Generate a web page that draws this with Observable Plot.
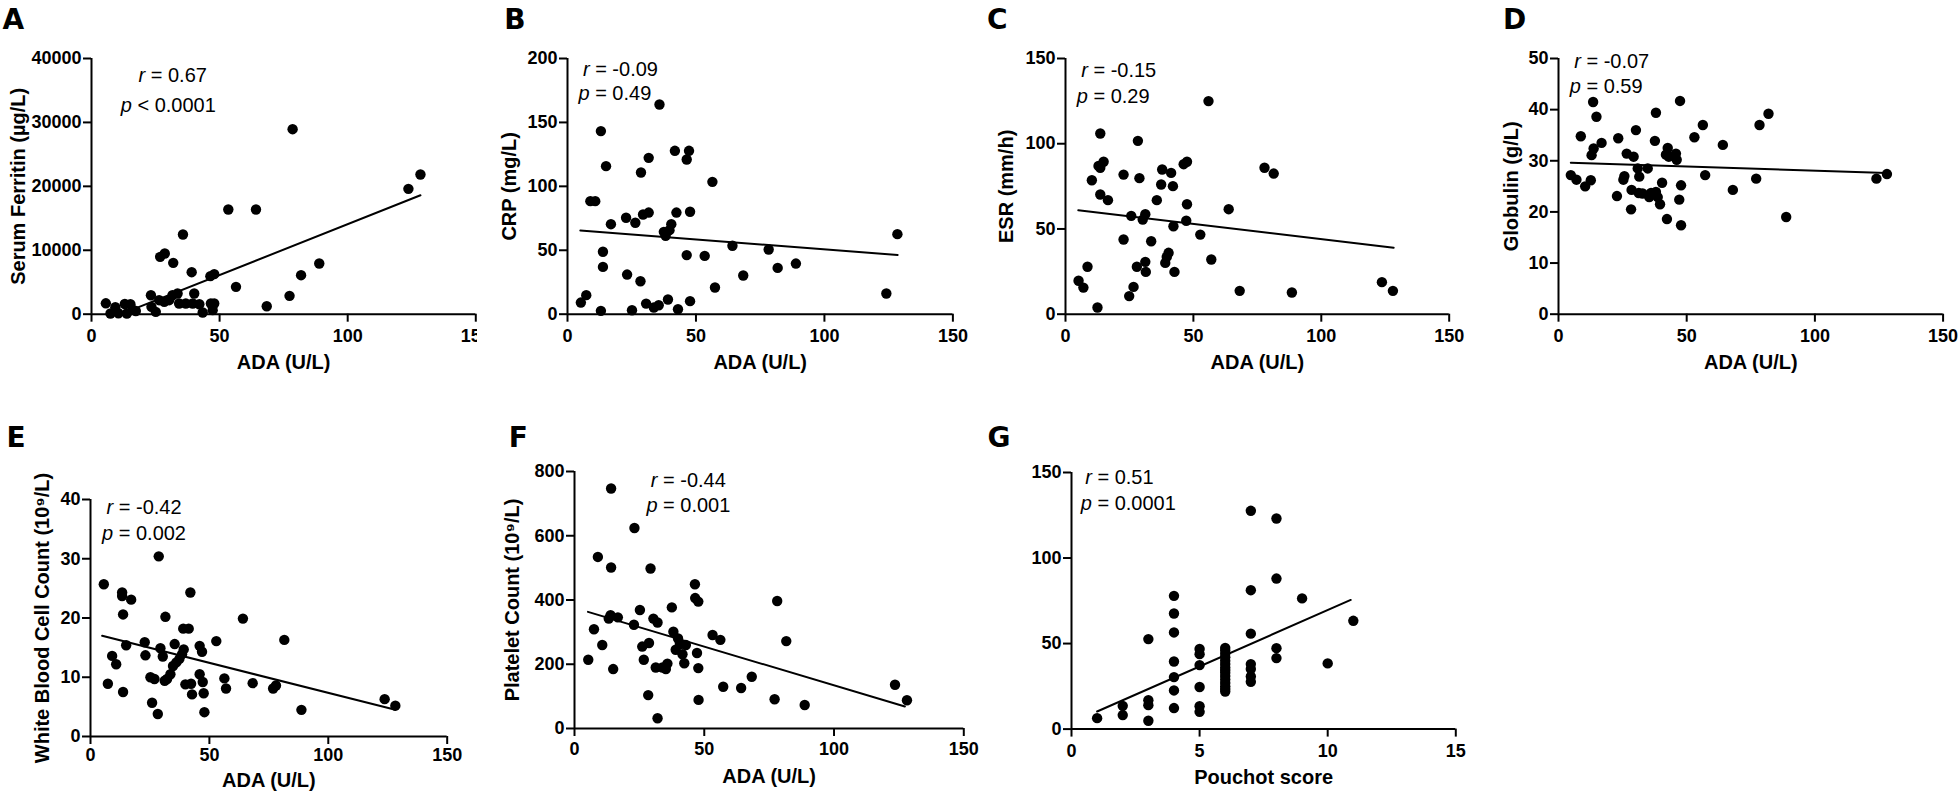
<!DOCTYPE html>
<html><head><meta charset="utf-8">
<script src="https://cdn.jsdelivr.net/npm/d3@7"></script>
<script src="https://cdn.jsdelivr.net/npm/@observablehq/plot@0.6"></script>
<style>
html,body{margin:0;padding:0;background:#fff;}
#wrap{position:relative;width:1958px;height:792px;overflow:hidden;background:#fff;}
.panel{position:absolute;}
.panel svg{overflow:visible;}
</style></head><body><div id="wrap"></div>
<script>
// ---------------- DATA ----------------
const panelLetters = ["A","B","C","D","E","F","G"];
const xTitles = ["ADA (U/L)","ADA (U/L)","ADA (U/L)","ADA (U/L)","ADA (U/L)","ADA (U/L)","Pouchot score"];
const yTitles = ["Serum Ferritin (µg/L)","CRP (mg/L)","ESR (mm/h)","Globulin (g/L)","White Blood Cell Count (10⁹/L)","Platelet Count (10⁹/L)",""];
const rValues = ["= 0.67","= -0.09","= -0.15","= -0.07","= -0.42","= -0.44","= 0.51"];
const pValues = ["< 0.0001","= 0.49","= 0.29","= 0.59","= 0.002","= 0.001","= 0.0001"];

const xTicksADA = [0,50,100,150];
const xTicksPouchot = [0,5,10,15];
const yTicksA = [0,10000,20000,30000,40000];
const yTicksB = [0,50,100,150,200];
const yTicksC = [0,50,100,150];
const yTicksD = [0,10,20,30,40,50];
const yTicksE = [0,10,20,30,40];
const yTicksF = [0,200,400,600,800];
const yTicksG = [0,50,100,150];

// A: ferritin vs ADA
const adaA = [5.6,7.4,9.3,10.5,13.0,13.8,15.2,16.0,17.3,23.2,23.4,25.1,26.8,28.6,26.4,28.4,30.3,31.6,31.9,33.6,34.2,35.7,36.8,39.1,40.1,39.5,42.1,43.4,46.6,46.4,47.9,47.9,47.3,53.4,56.4,64.2,68.4,77.3,78.5,81.8,88.9,123.7,128.4];
const ferritin = [1700,100,1100,150,1600,100,1550,700,500,2970,1150,365,8970,9490,2190,1930,2190,2970,8030,3230,1670,12460,1670,6570,3230,1670,1560,260,1670,5950,6260,1670,630,16380,4280,16380,1250,2870,28940,6100,7930,19610,21850];
const fitAx = [11.5,128.4], fitAy = [0,18600];

// B: CRP vs ADA
const adaB = [5.2,7.3,8.9,10.8,13.0,13.0,13.8,13.8,15.0,16.9,22.8,23.2,25.1,26.4,28.4,28.6,29.4,30.6,31.6,31.6,33.6,35.5,35.8,37.5,38.2,39.1,39.7,40.4,41.8,42.4,43.0,46.4,47.3,46.4,47.7,47.7,53.4,56.4,57.4,64.2,68.4,78.3,81.8,88.9,124.1,128.4];
const crp = [9.1,14.9,88.4,88.4,2.6,143.2,48.8,37.0,115.8,70.4,75.4,31.0,3.1,71.5,25.8,110.8,78.0,8.3,79.5,122.3,5.2,7.0,164.0,64.4,61.3,11.5,65.7,70.4,127.8,79.5,3.9,121.0,127.8,46.2,80.1,10.2,45.6,103.5,20.9,53.5,30.3,50.6,36.2,39.6,16.2,62.6];
const fitBx = [5.0,128.5], fitBy = [65.5,46.3];

// C: ESR vs ADA
const adaC = [5.1,7.0,8.6,10.3,12.5,13.6,12.9,13.6,14.9,13.6,16.6,22.7,22.7,24.9,26.6,25.7,28.3,28.9,27.9,30.2,31.2,31.2,31.4,33.5,35.7,37.4,37.8,39.0,39.6,40.3,41.3,42.0,42.2,42.6,46.2,47.5,47.5,47.2,52.7,55.9,57.0,63.8,68.1,77.8,81.4,88.5,123.7,128.0];
const esr = [19.6,15.6,27.8,78.6,3.9,106.0,87.0,85.9,89.4,70.2,66.9,81.9,43.8,10.6,16.0,57.7,101.7,79.8,27.8,55.5,58.7,30.7,24.8,42.8,66.9,76.1,84.9,30.1,33.6,36.0,82.9,75.1,51.6,24.8,88.0,89.4,64.5,54.8,46.7,125.0,32.1,61.6,13.7,85.9,82.5,12.7,18.8,13.7];
const fitCx = [5.0,128.3], fitCy = [61.0,39.0];

// D: Globulin vs ADA
const adaD = [4.8,7.0,8.7,10.4,12.6,13.5,12.9,13.7,14.8,16.8,22.8,23.3,25.3,25.7,26.6,28.3,28.5,29.3,30.2,30.9,31.5,31.3,32.8,34.8,35.4,36.1,37.6,38.0,38.0,38.7,39.6,40.4,41.9,42.6,43.0,42.3,45.8,46.1,47.4,47.1,47.8,47.8,53.0,56.3,57.2,64.1,68.0,77.1,78.4,81.9,88.8,124.0,128.1];
const globulin = [27.2,26.3,34.8,25.0,26.2,41.5,31.1,32.4,38.6,33.5,23.1,34.4,26.3,27.0,31.4,20.5,24.3,30.8,36.0,28.5,26.9,23.7,23.6,28.5,22.9,23.7,33.9,39.4,23.9,22.9,21.5,25.7,31.2,32.5,30.8,18.6,31.4,30.2,41.7,22.4,25.2,17.4,34.6,37.0,27.2,33.1,24.3,26.5,37.0,39.2,19.0,26.5,27.4];
const fitDx = [4.8,128.0], fitDy = [29.6,27.6];

// E: WBC vs ADA
const adaE = [5.6,7.3,9.1,10.8,13.3,13.3,13.7,13.7,15.0,17.1,22.8,23.1,25.2,25.9,26.9,28.3,28.7,29.4,30.4,31.2,31.5,32.2,33.6,34.7,35.4,36.1,37.4,38.5,39.2,39.0,39.9,41.3,42.0,42.3,42.7,45.9,46.9,45.9,47.2,47.6,47.9,52.9,56.3,57.0,64.1,68.2,76.8,78.0,81.5,88.7,123.7,128.2];
const wbc = [25.7,8.9,13.6,12.2,24.3,23.7,20.6,7.5,15.4,23.1,15.9,13.7,10.0,5.7,9.7,3.8,30.4,14.9,13.5,9.4,20.2,9.7,10.5,11.9,15.6,12.5,13.1,13.9,14.7,18.2,8.8,18.2,24.3,8.9,7.1,15.3,14.3,10.5,9.2,7.3,4.1,16.1,9.8,8.1,19.9,9.0,8.1,8.6,16.3,4.5,6.3,5.2];
const fitEx = [4.9,128.2], fitEy = [17.0,4.5];

// F: Platelets vs ADA
const adaF = [5.3,7.5,9.0,10.7,13.2,13.9,14.1,14.1,14.9,16.7,22.9,23.1,25.2,26.1,26.7,28.4,28.7,29.3,30.4,31.3,32.0,32.0,33.9,35.2,35.8,37.5,38.1,39.0,39.9,40.6,41.6,42.3,42.9,46.4,46.5,47.7,47.2,47.7,47.8,53.2,56.2,57.3,64.2,68.3,77.1,78.1,81.6,88.7,123.5,128.1];
const platelets = [214,309,534,260,342,353,747,501,185,346,323,624,369,255,214,104,266,498,342,190,330,32,190,185,202,377,301,245,280,263,231,203,260,449,406,395,235,188,89,291,276,130,126,161,91,397,272,73,136,88];
const fitFx = [5.2,127.3], fitFy = [363,68.5];

// G: ADA vs Pouchot score
const pouchot = [1,2,2,3,3,3,3,4,4,4,4,4,4,4,5,5,5,5,5,5,6,6,6,6,6,6,6,6,6,6,6,6,6,6,6,7,7,7,7,7,7,7,8,8,8,8,9,10,11];
const adaG = [6.4,13.6,8.2,52.6,16.9,14.0,4.9,77.9,67.6,56.5,39.5,30.4,22.6,12.3,46.8,43.8,37.4,24.6,13.4,10.1,22.0,23.5,25.0,27.0,29.0,31.0,33.0,34.5,36.0,38.0,40.0,42.0,44.0,46.0,47.5,127.6,81.2,55.8,38.0,35.1,30.8,27.7,123.1,88.0,47.3,41.5,76.4,38.4,63.3];
const fitGx = [1.0,10.9], fitGy = [10.3,75.5];

// ---------------- LAYOUT ----------------
const series = [
  {xs: adaA, ys: ferritin, fx: fitAx, fy: fitAy, xDomain:[0,150], yDomain:[0,40000], xTicks: xTicksADA, yTicks: yTicksA},
  {xs: adaB, ys: crp, fx: fitBx, fy: fitBy, xDomain:[0,150], yDomain:[0,200], xTicks: xTicksADA, yTicks: yTicksB},
  {xs: adaC, ys: esr, fx: fitCx, fy: fitCy, xDomain:[0,150], yDomain:[0,150], xTicks: xTicksADA, yTicks: yTicksC},
  {xs: adaD, ys: globulin, fx: fitDx, fy: fitDy, xDomain:[0,150], yDomain:[0,50], xTicks: xTicksADA, yTicks: yTicksD},
  {xs: adaE, ys: wbc, fx: fitEx, fy: fitEy, xDomain:[0,150], yDomain:[0,40], xTicks: xTicksADA, yTicks: yTicksE},
  {xs: adaF, ys: platelets, fx: fitFx, fy: fitFy, xDomain:[0,150], yDomain:[0,800], xTicks: xTicksADA, yTicks: yTicksF},
  {xs: pouchot, ys: adaG, fx: fitGx, fy: fitGy, xDomain:[0,15], yDomain:[0,150], xTicks: xTicksPouchot, yTicks: yTicksG}
];

const geom = [
  {x0:90.7, x1:475, y0:58.3, y1:314, mT:55, mB:66, mR:20, xPad:7, xTitleOff:55, yTitleOff:67, letterDx:-89, letterDy:-29, annDx:[53.7,40.4], annDy:[23.4,53.4]},
  {x0:567.3, x1:952.7, y0:58.3, y1:314, mT:55, mB:66, mR:20, xPad:7, xTitleOff:55, yTitleOff:52, letterDx:-63.3, letterDy:-29, annDx:[22.1,22.1], annDy:[17.7,41.7]},
  {x0:1065.3, x1:1449, y0:58.3, y1:314, mT:55, mB:66, mR:20, xPad:7, xTitleOff:55, yTitleOff:52.5, letterDx:-78.6, letterDy:-29, annDx:[22.4,22.4], annDy:[18.7,44.7]},
  {x0:1557.7, x1:1942.3, y0:58.3, y1:314, mT:55, mB:66, mR:16, xPad:7, xTitleOff:55, yTitleOff:41, letterDx:-55.4, letterDy:-29, annDx:[22.4,22.4], annDy:[10,35]},
  {x0:90, x1:446.7, y0:498.7, y1:735.7, mT:75, mB:56, mR:20, xPad:4, xTitleOff:50.6, yTitleOff:42, letterDx:-84, letterDy:-52, annDx:[22.7,22.7], annDy:[14.6,40.3]},
  {x0:574, x1:963.3, y0:470.7, y1:727.7, mT:50, mB:64, mR:15, xPad:6, xTitleOff:55, yTitleOff:55.5, letterDx:-65.7, letterDy:-24, annDx:[83,83], annDy:[16,41]},
  {x0:1070.7, x1:1455, y0:471.7, y1:728.3, mT:50, mB:64, mR:20, xPad:7, xTitleOff:55, yTitleOff:0, letterDx:-84, letterDy:-25, annDx:[20.4,20.4], annDy:[11.6,37.3]}
];

const FONT = "'Liberation Sans', Arial, Helvetica, sans-serif";
const wrap = document.getElementById("wrap");

series.forEach((s, i) => {
  const g = geom[i];
  const mL = 90;
  const W = mL + (g.x1 - g.x0) + g.mR;
  const H = g.mT + (g.y1 - g.y0) + g.mB;
  const pts = s.xs.map((x, j) => ({x, y: s.ys[j]}));
  const fit = s.fx.map((x, j) => ({x, y: s.fy[j]}));
  const marks = [
    Plot.ruleY([0], {stroke: "black", strokeWidth: 2}),
    Plot.ruleX([0], {stroke: "black", strokeWidth: 2}),
    Plot.axisX({ticks: s.xTicks, tickSize: 8, tickPadding: g.xPad, stroke: "black", strokeWidth: 2,
      fontSize: 18, fontWeight: "bold", fill: "black", tickFormat: d => String(d), label: null}),
    Plot.axisY({ticks: s.yTicks, tickSize: 8, tickPadding: 2, stroke: "black", strokeWidth: 2,
      fontSize: 18, fontWeight: "bold", fill: "black", tickFormat: d => String(d), label: null}),
    Plot.line(fit, {x: "x", y: "y", stroke: "black", strokeWidth: 2}),
    Plot.dot(pts, {x: "x", y: "y", r: 5.2, fill: "black", stroke: "none"}),
    Plot.text([xTitles[i]], {text: d => d, frameAnchor: "bottom", textAnchor: "middle", dy: g.xTitleOff, lineAnchor: "bottom",
      fontSize: 20, fontWeight: "bold", fill: "black"}),
    Plot.text([panelLetters[i]], {text: d => d, frameAnchor: "top-left", dx: g.letterDx, dy: g.letterDy,
      lineAnchor: "bottom", textAnchor: "start", fontSize: 28, fontWeight: "bold", fill: "black",
      fontFamily: "'DejaVu Sans', sans-serif"}),
    Plot.text(["r"], {text: d => d, frameAnchor: "top-left", dx: g.annDx[0], dy: g.annDy[0], lineAnchor: "bottom",
      textAnchor: "end", fontSize: 20, fontStyle: "italic", fill: "black"}),
    Plot.text([rValues[i]], {text: d => "\u00a0" + d, frameAnchor: "top-left", dx: g.annDx[0], dy: g.annDy[0], lineAnchor: "bottom",
      textAnchor: "start", fontSize: 20, fill: "black"}),
    Plot.text(["p"], {text: d => d, frameAnchor: "top-left", dx: g.annDx[1], dy: g.annDy[1], lineAnchor: "bottom",
      textAnchor: "end", fontSize: 20, fontStyle: "italic", fill: "black"}),
    Plot.text([pValues[i]], {text: d => "\u00a0" + d, frameAnchor: "top-left", dx: g.annDx[1], dy: g.annDy[1], lineAnchor: "bottom",
      textAnchor: "start", fontSize: 20, fill: "black"})
  ];
  if (yTitles[i]) {
    marks.push(Plot.text([yTitles[i]], {text: d => d, frameAnchor: "left", textAnchor: "middle", rotate: -90, dx: -g.yTitleOff,
      lineAnchor: "bottom", fontSize: 20, fontWeight: "bold", fill: "black"}));
  }
  const chart = Plot.plot({
    width: W, height: H,
    marginLeft: mL, marginRight: g.mR, marginTop: g.mT, marginBottom: g.mB,
    x: {domain: s.xDomain, nice: false},
    y: {domain: s.yDomain, nice: false},
    style: {fontFamily: FONT, color: "black", background: "white", overflow: "visible"},
    marks
  });
  const div = document.createElement("div");
  div.className = "panel";
  div.style.left = (g.x0 - mL) + "px";
  div.style.top = (g.y0 - g.mT) + "px";
  div.style.width = W + "px";
  div.appendChild(chart);
  wrap.appendChild(div);
});
</script>
</body></html>
